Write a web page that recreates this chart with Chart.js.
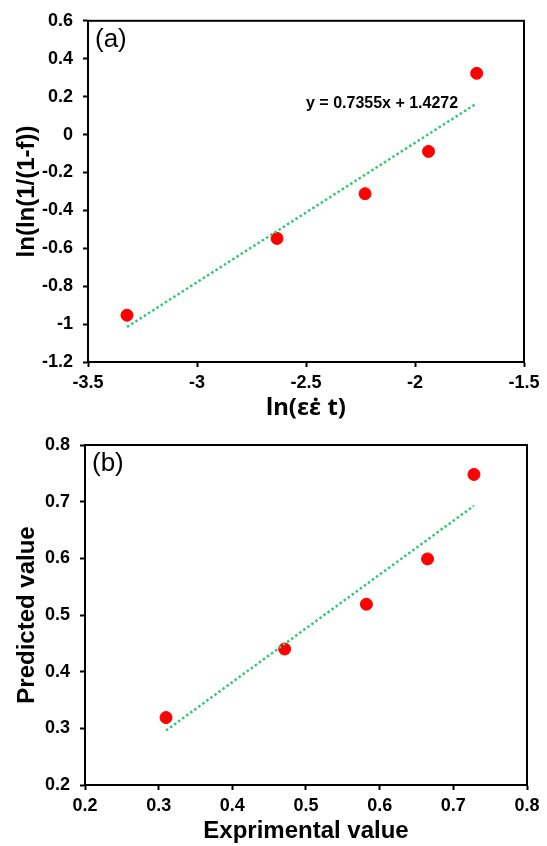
<!DOCTYPE html>
<html>
<head>
<meta charset="utf-8">
<script src="https://cdn.jsdelivr.net/npm/chart.js@4/dist/chart.umd.min.js"></script>
<style>
  body { margin: 0; background: #fff; }
  .panel { position: absolute; left: 0; width: 547px; height: 423px; }
  #panelA { top: 0; }
  #panelB { top: 423px; }
</style>
</head>
<body>
<div class="panel" id="panelA"><canvas id="chartA" width="547" height="423"></canvas></div>
<div class="panel" id="panelB"><canvas id="chartB" width="547" height="423"></canvas></div>
<script>
// (a) Avrami-type plot
const strainX = [-3.321, -2.633, -2.229, -1.938, -1.717];
const lnLnY = [-0.953, -0.548, -0.312, -0.089, 0.323];
const fitSlope = 0.7355;
const fitIntercept = 1.4272;
const xTicksA = [-3.5, -1.5, 0.5];   // min, max, step
const yTicksA = [-1.2, 0.6, 0.2];

// (b) experimental vs predicted
const expValue = [0.310, 0.471, 0.582, 0.665, 0.728];
const predValue = [0.319, 0.440, 0.519, 0.599, 0.748];
const xTicksB = [0.2, 0.8, 0.1];
const yTicksB = [0.2, 0.8, 0.1];

const FONT = "'Liberation Sans', Arial, sans-serif";
const MARK_FONT = "'Noto Sans', 'DejaVu Sans', sans-serif"; // positions the combining dot properly
const GREEN = '#33c775';

function pts(xs, ys) {
    return xs.map((x, i) => ({ x: x, y: ys[i] }));
}

function lineFit(xs, ys) {
    var n = xs.length, mx = 0, my = 0, sxy = 0, sxx = 0;
    for (var i = 0; i < n; i++) { mx += xs[i] / n; my += ys[i] / n; }
    for (var i = 0; i < n; i++) {
        sxy += (xs[i] - mx) * (ys[i] - my);
        sxx += (xs[i] - mx) * (xs[i] - mx);
    }
    var m = sxy / sxx;
    return [m, my - m * mx];
}

function trend(xs, m, b) {
    var x0 = Math.min.apply(null, xs), x1 = Math.max.apply(null, xs);
    return [{ x: x0, y: m * x0 + b }, { x: x1, y: m * x1 + b }];
}

function fmt(v) {
    return String(Number(v.toFixed(2)));
}

// box round the plot area plus the panel texts
const frame = {
    id: 'frame',
    afterDraw(chart, args, opts) {
        const a = chart.chartArea, ctx = chart.ctx;
        ctx.save();
        ctx.strokeStyle = '#000';
        ctx.lineWidth = 2;
        ctx.strokeRect(a.left, a.top, a.right - a.left, a.bottom - a.top);
        ctx.fillStyle = '#000';
        ctx.font = "26px " + FONT;
        ctx.textAlign = 'left';
        ctx.textBaseline = 'top';
        ctx.fillText(opts.tag, a.left + 7, a.top + 6);
        if (opts.eq) {
            ctx.font = "bold 16px " + FONT;
            ctx.textBaseline = 'middle';
            ctx.fillText(opts.eq.text,
                chart.scales.x.getPixelForValue(opts.eq.x),
                chart.scales.y.getPixelForValue(opts.eq.y));
        }
        ctx.restore();
    }
};

function axis(range, title, titleFont, titlePad, size, horizontal) {
    return {
        type: 'linear',
        min: range[0],
        max: range[1],
        afterFit: function (scale) {
            if (horizontal) scale.height = size; else scale.width = size;
        },
        ticks: {
            stepSize: range[2],
            color: '#000',
            padding: horizontal ? 5 : 10,
            font: { family: FONT, size: 18, weight: 'bold' },
            callback: fmt
        },
        grid: { drawOnChartArea: false, drawTicks: true, tickLength: 5, tickColor: '#000', tickWidth: 2 },
        border: { color: '#000', width: 2 },
        title: {
            display: true,
            text: title,
            color: '#000',
            padding: titlePad,
            font: { family: titleFont, size: 24, weight: 'bold', lineHeight: 1.2 }
        }
    };
}

function makeChart(id, xs, ys, fit, xr, yr, xTitle, xTitleFont, yTitle, left, right, top, bottom, tag, eq) {
    const ctx = document.getElementById(id).getContext('2d');
    return new Chart(ctx, {
        type: 'scatter',
        data: {
            datasets: [{
                data: trend(xs, fit[0], fit[1]),
                showLine: true,
                borderColor: GREEN,
                borderWidth: 2.5,
                borderDash: [2.5, 2.5],
                pointRadius: 0,
                fill: false
            }, {
                data: pts(xs, ys),
                backgroundColor: '#ff0000',
                borderColor: '#ff0000',
                pointRadius: 6,
                pointHoverRadius: 6
            }]
        },
        options: {
            responsive: false,
            animation: false,
            layout: { padding: { top: top, right: 547 - right, left: 0, bottom: 0 } },
            plugins: {
                legend: { display: false },
                tooltip: { enabled: false },
                frame: { tag: tag, eq: eq }
            },
            scales: {
                x: axis(xr, xTitle, xTitleFont, { top: 0, bottom: 0 }, 423 - bottom, true),
                y: axis(yr, yTitle, FONT, { top: 13, bottom: 0 }, left, false)
            }
        },
        plugins: [frame]
    });
}

document.addEventListener('DOMContentLoaded', () => {

    makeChart('chartA', strainX, lnLnY, [fitSlope, fitIntercept], xTicksA, yTicksA,
        'ln(\u03b5\u03b5\u0307 t)', MARK_FONT, 'ln(ln(1/(1-f))',
        88, 524, 17, 362, '(a)',
        { text: 'y = 0.7355x + 1.4272', x: -2.5, y: 0.165 });

    makeChart('chartB', expValue, predValue, lineFit(expValue, predValue), xTicksB, yTicksB,
        'Exprimental value', FONT, 'Predicted value',
        85, 527, 22, 362, '(b)', null);

});
</script>
</body>
</html>
